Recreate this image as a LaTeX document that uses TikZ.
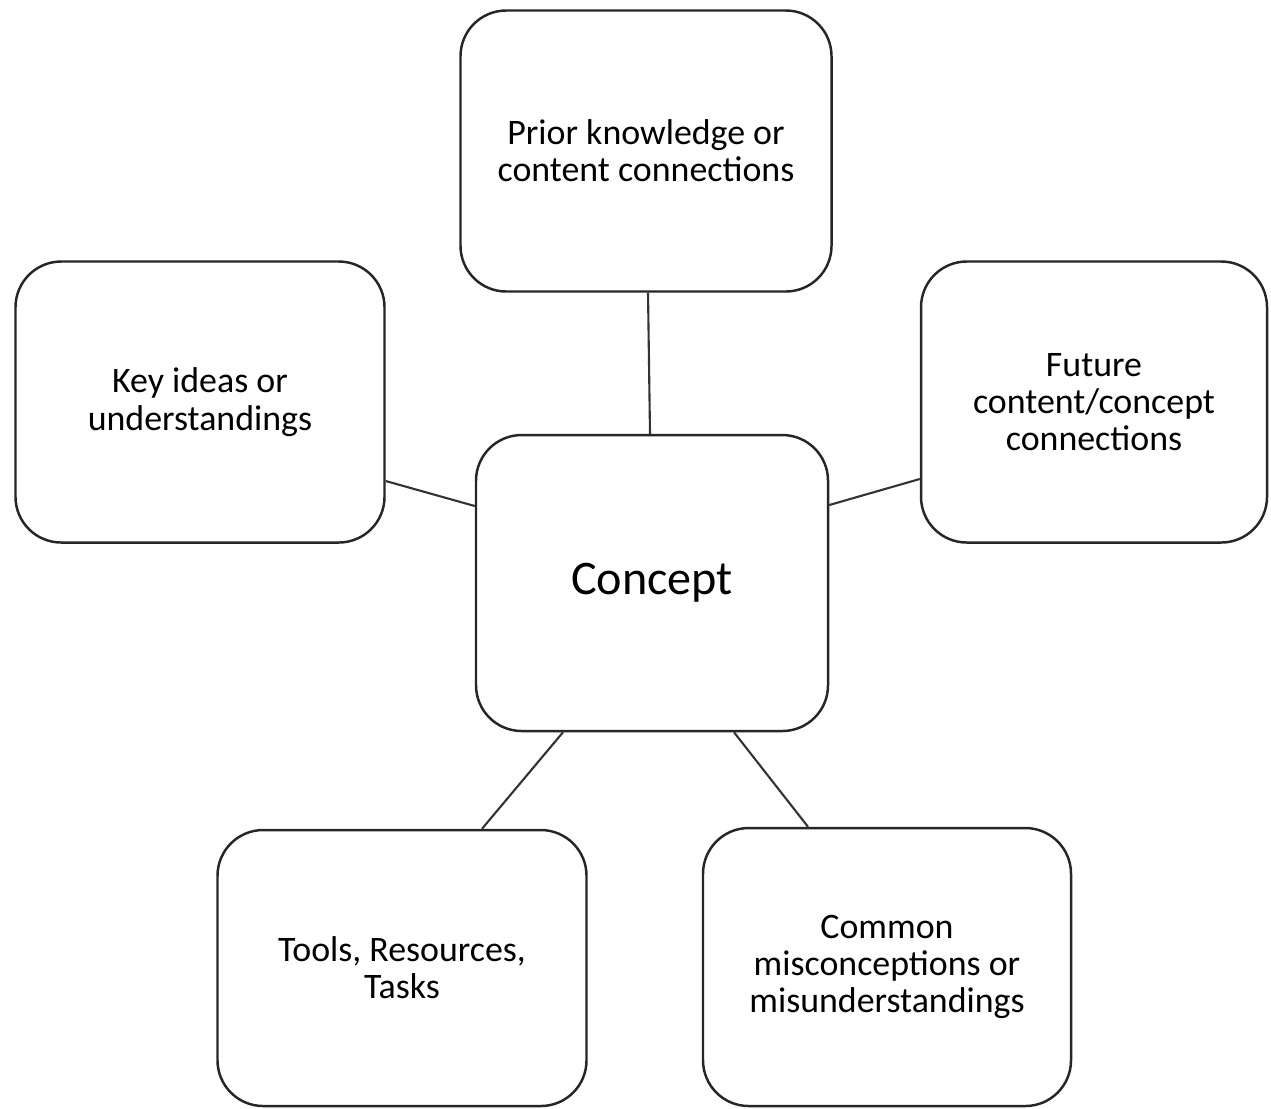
\documentclass[tikz,border=0pt]{standalone}
\usepackage{fontspec}
\setmainfont{Carlito}
\begin{document}
\begin{tikzpicture}[x=0.01cm,y=-0.01cm,
  box/.style={draw=black!85, line width=0.7pt, rounded corners=13pt, fill=white,
    align=center, inner sep=0pt,
    font=\fontsize{10.2pt}{10.6pt}\selectfont},
  link/.style={draw=black!80, line width=0.6pt}]
  \useasboundingbox (0,0) rectangle (1271,1108);
  % topic boxes, placed by their centres
  \node[box, minimum width=371*0.01cm, minimum height=281*0.01cm] (prior) at (646,151)
    {Prior knowledge or\\content connections};
  \node[box, minimum width=369*0.01cm, minimum height=281*0.01cm] (key) at (200,402)
    {Key ideas or\\understandings};
  \node[box, minimum width=346*0.01cm, minimum height=281*0.01cm] (future) at (1094,402)
    {Future\\content/concept\\connections};
  \node[box, minimum width=352*0.01cm, minimum height=296*0.01cm,
    font=\fontsize{13.7pt}{14.5pt}\selectfont] (concept) at (652,583) {Concept};
  \node[box, minimum width=369*0.01cm, minimum height=276*0.01cm] (tools) at (402,968)
    {Tools, Resources,\\Tasks};
  \node[box, minimum width=368*0.01cm, minimum height=278*0.01cm] (common) at (887,967)
    {Common\\misconceptions or\\misunderstandings};
  % spokes from the central concept
  \draw[link] (prior.south -| 648,0) -- (concept.north -| 650,0);
  \draw[link] (key.east |- 0,481) -- (concept.west |- 0,506);
  \draw[link] (future.west |- 0,479) -- (concept.east |- 0,505);
  \draw[link] (concept.south -| 563,0) -- (tools.north -| 482,0);
  \draw[link] (concept.south -| 734,0) -- (common.north -| 808,0);
\end{tikzpicture}
\end{document}
